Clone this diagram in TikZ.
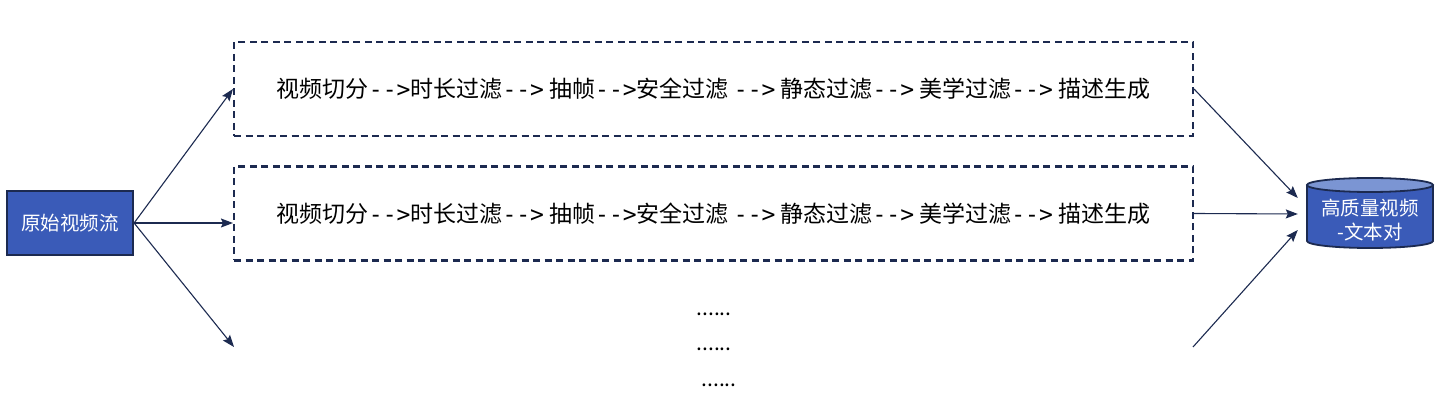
\documentclass[tikz,border=0pt]{standalone}
\usepackage{fontspec}
\setmainfont{Noto Sans CJK SC}
\newfontfamily\monof{DejaVu Sans Mono}
\usetikzlibrary{arrows.meta,calc}
\definecolor{navy}{HTML}{1C2A50}
\definecolor{boxblue}{HTML}{3A5BB8}
\definecolor{topblue}{HTML}{7B95D3}
\newcommand{\arw}{{\monof-{}->}}
\tikzset{
  conn/.style={draw=navy,line width=1.1pt,-{Stealth[length=12pt,width=9pt,inset=2pt]}},
  stagebox/.style={draw=navy,line width=2.1pt,dash pattern=on 7pt off 4.5pt,minimum width=959pt,minimum height=94pt,inner sep=0pt,font=\fontsize{23}{26}\selectfont},
  srcbox/.style={draw=navy,fill=boxblue,line width=2.2pt,minimum width=126pt,minimum height=64pt,inner sep=0pt,text=white,font=\fontsize{19.5}{22}\selectfont},
  dots/.style={font=\fontsize{21}{22}\selectfont,inner sep=0pt}
}
\begin{document}
\begin{tikzpicture}[x=1pt,y=-1pt]
\useasboundingbox (0,0) rectangle (1444,419);
\fill[white] (0,0) rectangle (1444,419);
% source
\node[srcbox] (src) at (70,223) {原始视频流};
% stage rows
\node[stagebox] (row1) at (713.5,89) {视频切分\arw{}时长过滤\arw{} 抽帧\arw{}安全过滤 \arw{} 静态过滤\arw{} 美学过滤\arw{} 描述生成};
\node[stagebox] (row2) at (713.5,213.5) {视频切分\arw{}时长过滤\arw{} 抽帧\arw{}安全过滤 \arw{} 静态过滤\arw{} 美学过滤\arw{} 描述生成};
\coordinate (row3w) at (234,347);
\coordinate (row3e) at (1193,347);
% dots
\node[dots] (d1) at (714,314) {......};
\node[dots] (d2) at (714,349) {......};
\node[dots] (d3) at (719,385) {......};
% cylinder
\fill[boxblue] (1307,185) -- (1307,241) arc[start angle=180,end angle=0,x radius=63,y radius=7] -- (1433,185) -- cycle;
\fill[topblue] (1370,185) ellipse[x radius=63,y radius=7];
\draw[navy,line width=1.8pt] (1307,185) -- (1307,241) arc[start angle=180,end angle=0,x radius=63,y radius=7] -- (1433,185);
\draw[navy,line width=1.8pt] (1370,185) ellipse[x radius=63,y radius=7];
\node[text=white,font=\fontsize{19.5}{24}\selectfont,align=center,minimum width=126pt,minimum height=70pt,inner sep=0pt] (db) at (1370,220) {高质量视频\\-文本对};
\coordinate (t1) at ($(db.west)+(-9,-22)$);
\coordinate (t2) at ($(db.west)+(-9,-6)$);
\coordinate (t3) at ($(db.west)+(-9,10)$);
% connectors
\draw[conn] (src.east) -- (row1.west);
\draw[conn] (src.east) -- (src.east -| row2.west);
\draw[conn] (src.east) -- (row3w);
\draw[conn] (row1.east) -- (t1);
\draw[conn] (row2.east) -- (t2);
\draw[conn] (row3e) -- (t3);
\end{tikzpicture}
\end{document}
